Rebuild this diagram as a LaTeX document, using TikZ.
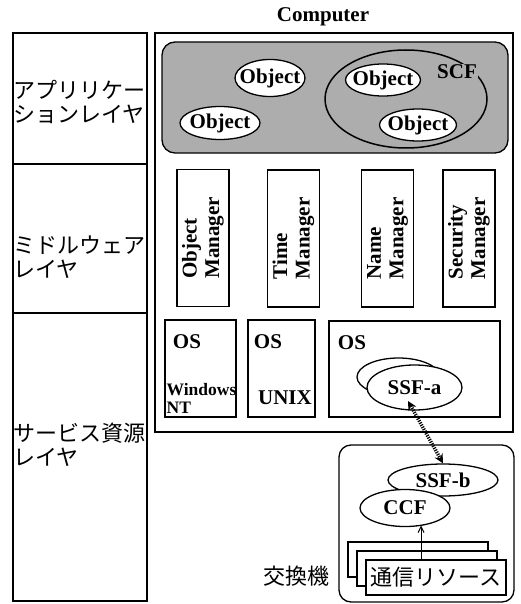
\documentclass[tikz,border=0pt]{standalone}
\usepackage{fontspec}
\setmainfont{Liberation Serif}
\newfontfamily\jpfont{Noto Sans CJK JP}
\usetikzlibrary{shapes.geometric,arrows.meta,calc}
\newcommand\zbox[1]{\makebox[0pt][c]{#1}}
\begin{document}
\begin{tikzpicture}[x=1pt,y=-1pt,line width=1.3pt,
  bf/.style={font=\bfseries\fontsize{21}{22.5}\selectfont},
  jp/.style={font=\jpfont\fontsize{22}{24}\selectfont},
  ell/.style={ellipse,draw,fill=white,inner sep=0pt,bf},
  mgr/.style={draw,inner sep=0pt,minimum width=52pt,minimum height=137pt},
  mgrtext/.style={rotate=90,align=left,bf,inner sep=0pt},
  osbox/.style={draw,inner sep=0pt},
  res/.style={draw,fill=white,inner sep=0pt,minimum width=140pt,minimum height=35pt},
  dotarrow/.style={line width=3.5pt,dash pattern=on 1.2pt off 1.2pt,
     {Stealth[length=9pt,width=9pt]}-{Stealth[length=9pt,width=9pt]}},
  uparrow/.style={line width=1pt,-{Straight Barb[length=6pt,width=6pt]}}]
\useasboundingbox (0,0) rectangle (520,604);
\fill[white] (0,0) rectangle (520,604);

% left layer column
\node[draw,minimum width=134pt,minimum height=131pt,inner sep=0pt] (lay1) at (80,98.5) {};
\node[draw,minimum width=134pt,minimum height=149pt,inner sep=0pt] (lay2) at (80,238.5) {};
\node[draw,minimum width=134pt,minimum height=288pt,inner sep=0pt] (lay3) at (80,457) {};
\node[jp,anchor=west,align=left,inner sep=0pt] (t1) at (13,101.5) {アプリリケー\\ションレイヤ};
\node[jp,anchor=west,align=left,inner sep=0pt] (t2) at (13,257) {ミドルウェア\\レイヤ};
\node[jp,anchor=west,align=left,inner sep=0pt] (t3) at (13,445) {サービス資源\\レイヤ};

% computer
\node[bf] (comp) at (323,17) {Computer};
\node[draw,minimum width=358pt,minimum height=399pt,inner sep=0pt] (cbox) at (334,232.5) {};
\node[draw,fill=black!32,rounded corners=13pt,minimum width=346pt,minimum height=111pt,inner sep=0pt] (app) at (335,97.5) {};

\node[ell,minimum width=70pt,minimum height=37pt] (o1) at (270,78) {\zbox{Object}};
\node[ell,minimum width=80pt,minimum height=33pt] (o2) at (220,123) {\zbox{Object}};
\node[ellipse,draw,line width=1.5pt,minimum width=162pt,minimum height=98pt,inner sep=0pt] (scf) at (406,99) {};
\node[ell,minimum width=75pt,minimum height=32pt] (o3) at (383,80) {\zbox{Object}};
\node[ell,minimum width=77pt,minimum height=32pt] (o4) at (418,125) {\zbox{Object}};
\node[bf,fill=black!32,inner sep=1pt] (scfl) at (457,72) {SCF};

% managers
\node[mgr] (om) at (203,238) {};
\node[mgrtext] at (om) {Object\\Manager};
\node[mgr] (tm) at (293.5,238.5) {};
\node[mgrtext] at (tm) {Time\\Manager};
\node[mgr] (nm) at (387.5,238.5) {};
\node[mgrtext] at (nm) {Name\\Manager};
\node[mgr] (sm) at (469,238.5) {};
\node[mgrtext] at (sm) {Security\\Manager};

% OS boxes
\node[osbox,minimum width=71pt,minimum height=97pt] (os1) at (200.5,368.5) {};
\node[osbox,minimum width=67pt,minimum height=97pt] (os2) at (281.5,368.5) {};
\node[osbox,minimum width=171pt,minimum height=96pt] (os3) at (414.5,369) {};
\node[bf] at (187,342) {OS};
\node[bf] at (268,342) {OS};
\node[bf] at (352,343) {OS};
\node[font=\bfseries\fontsize{17.5}{18}\selectfont,anchor=west,align=left,inner sep=0pt] (win) at (166,398.5) {Windows\\NT};
\node[font=\bfseries\fontsize{21}{22}\selectfont] (unix) at (285,398) {UNIX};

\node[ellipse,draw,minimum width=83pt,minimum height=38pt,inner sep=0pt] (ssfback) at (398.5,377) {};
\node[ell,minimum width=95pt,minimum height=45pt] (ssfa) at (414.5,387.5) {\zbox{SSF-a}};
\coordinate (ta) at (408,401);

% exchange
\node[draw,rounded corners=12pt,minimum width=175pt,minimum height=157pt,inner sep=0pt] (exch) at (426.5,523.5) {};
\node[ell,minimum width=110pt,minimum height=32pt] (ssfb) at (443,480) {\zbox{SSF-b}};
\node[ell,minimum width=90pt,minimum height=37pt] (ccf) at (405,508) {\zbox{CCF}};
\node[res] (r1) at (418,559.5) {};
\node[res] (r2) at (427,568.5) {};
\node[res,jp] (r3) at (436,577.5) {通信リソース};
\node[jp] (kk) at (296,576) {交換機};

\draw[dotarrow] (ta) -- (ssfb.north);
\coordinate (tip) at (421,525.5);
\draw[uparrow] (r3.north -| tip) -- (tip);
\end{tikzpicture}
\end{document}
